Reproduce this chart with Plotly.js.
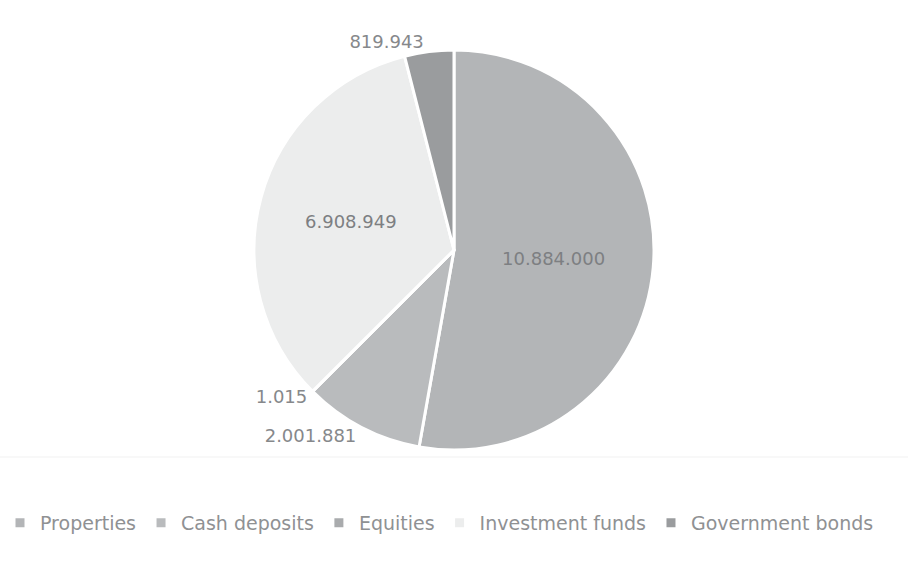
<!DOCTYPE html>
<html>
<head>
<meta charset="utf-8">
<script src="https://cdn.plot.ly/plotly-3.0.1.min.js"></script>
<style>html,body{margin:0;padding:0;background:#fff;}#chart{width:915px;height:561px;}</style>
</head>
<body>
<div id="chart"></div>
<script>
var categories = ["Properties", "Cash deposits", "Equities", "Investment funds", "Government bonds"];
var values = [10884000, 2001881, 1015, 6908949, 819943];
var sliceColors = ["#b3b5b7", "#b9bbbd", "#a9abad", "#eceded", "#9a9c9e"];
var labelPositions = ["inside", "outside", "outside", "inside", "outside"];

var trace = {
  type: "pie",
  labels: categories,
  values: values,
  sort: false,
  direction: "clockwise",
  rotation: 0,
  marker: {colors: sliceColors, line: {color: "#ffffff", width: 3}},
  textinfo: "value",
  texttemplate: "%{value:,}",
  textposition: labelPositions,
  insidetextorientation: "horizontal",
  insidetextfont: {family: "DejaVu Sans, sans-serif", size: 18, color: "#7d7f82"},
  outsidetextfont: {family: "DejaVu Sans, sans-serif", size: 18, color: "#86888b"},
  hoverinfo: "label+value",
  showlegend: true
};

var layout = {
  width: 915,
  height: 561,
  separators: ",.",
  margin: {l: 0, r: 7, t: 50, b: 111},
  paper_bgcolor: "#ffffff",
  plot_bgcolor: "#ffffff",
  font: {family: "DejaVu Sans, sans-serif", color: "#8a8c8e", size: 15},
  legend: {
    orientation: "h",
    x: 0.0,
    xanchor: "left",
    y: -0.135,
    yanchor: "top",
    font: {family: "DejaVu Sans, sans-serif", size: 19, color: "#8f9193"},
    itemwidth: 30,
    traceorder: "normal"
  },
  shapes: [
    {type: "line", xref: "paper", yref: "paper", x0: 0, x1: 1, y0: -0.0175, y1: -0.0175,
     line: {color: "#f1f1f1", width: 1}, layer: "below"}
  ]
};

Plotly.newPlot("chart", [trace], layout, {displayModeBar: false, staticPlot: true});
</script>
</body>
</html>
